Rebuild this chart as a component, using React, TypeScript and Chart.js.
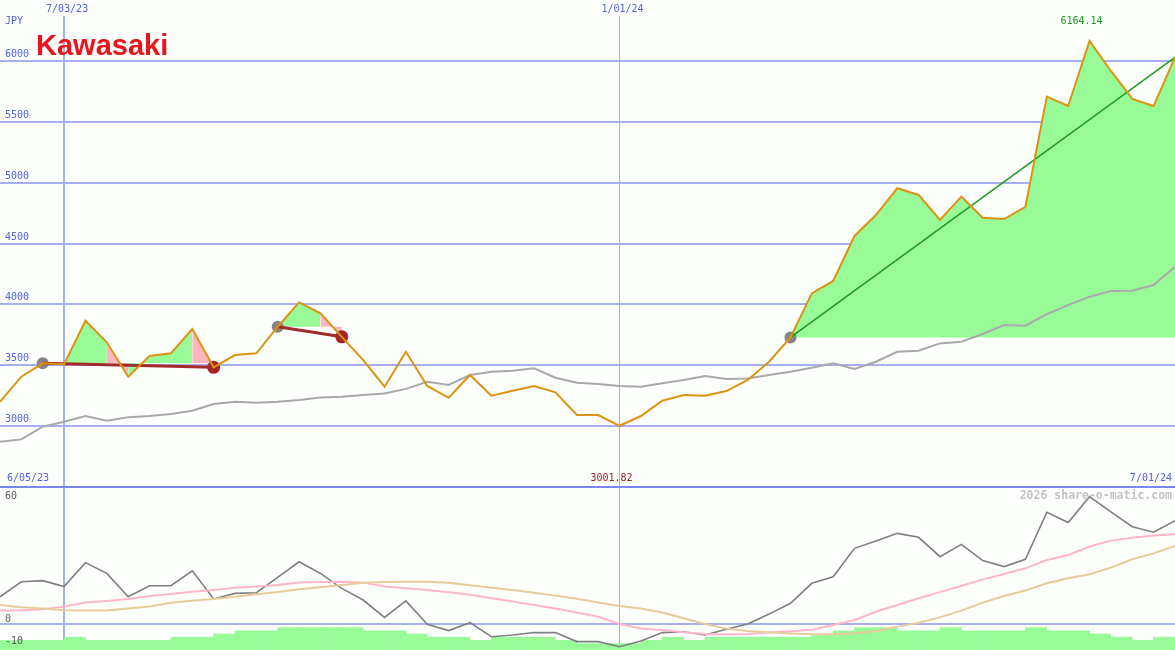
import React, { useEffect, useRef } from 'react';
import { Chart, registerables } from 'chart.js';

Chart.register(...registerables);

// ---------- data ----------
const weeks = [
  '6/12/23', '6/19/23', '6/26/23', '7/03/23', '7/10/23', '7/17/23', '7/24/23', '7/31/23',
  '8/07/23', '8/14/23', '8/21/23', '8/28/23', '9/04/23', '9/11/23', '9/18/23', '9/25/23',
  '10/02/23', '10/09/23', '10/16/23', '10/23/23', '10/30/23', '11/06/23', '11/13/23', '11/20/23',
  '11/27/23', '12/04/23', '12/11/23', '12/18/23', '12/25/23', '1/01/24', '1/08/24', '1/15/24',
  '1/22/24', '1/29/24', '2/05/24', '2/12/24', '2/19/24', '2/26/24', '3/04/24', '3/11/24',
  '3/18/24', '3/25/24', '4/01/24', '4/08/24', '4/15/24', '4/22/24', '4/29/24', '5/06/24',
  '5/13/24', '5/20/24', '5/27/24', '6/03/24', '6/10/24', '6/17/24', '6/24/24', '7/01/24',
];

const price = [
  3199, 3405, 3515, 3507, 3865, 3688, 3405, 3575, 3597, 3797,
  3482, 3583, 3597, 3816, 4016, 3926, 3733, 3542, 3323, 3610,
  3329, 3232, 3419, 3249, 3290, 3329, 3277, 3090, 3090, 3001.82,
  3082, 3208, 3255, 3249, 3287, 3378, 3528, 3728, 4090, 4192,
  4562, 4734, 4954, 4899, 4693, 4885, 4712, 4701, 4802, 5707,
  5630, 6164.14, 5918, 5688, 5630, 6030,
];

const priceMA = [
  2871, 2890, 2994, 3035, 3082, 3043, 3071, 3082, 3098, 3126,
  3180, 3199, 3191, 3199, 3213, 3235, 3240, 3254, 3268, 3305,
  3364, 3337, 3419, 3446, 3454, 3474, 3397, 3356, 3345, 3329,
  3323, 3351, 3378, 3411, 3386, 3390, 3419, 3446, 3479, 3515,
  3468, 3528, 3610, 3619, 3679, 3693, 3756, 3830, 3824, 3920,
  3994, 4063, 4109, 4112, 4159, 4309,
];

const oscMomentum = [
  12.4, 19.2, 19.7, 17.0, 27.9, 23.0, 12.4, 17.4, 17.4, 24.2,
  11.4, 13.9, 14.2, 21.2, 28.3, 23.0, 16.2, 10.9, 3.0, 10.5,
  -0.1, -3.0, 0.6, -5.8, -5.0, -3.9, -3.9, -8.0, -8.0, -10.3,
  -7.7, -3.9, -3.5, -5.0, -2.4, 0, 4.5, 9.4, 18.5, 21.5,
  34.4, 37.7, 41.2, 39.4, 30.6, 36.2, 28.8, 26.1, 29.4, 50.8,
  46.1, 57.9, 51.0, 44.2, 41.7, 47.0,
];

const oscSignal = [
  6.1, 6.2, 6.7, 7.9, 9.8, 10.5, 11.4, 12.7, 13.6, 14.7,
  15.5, 16.5, 17.0, 17.7, 18.9, 19.1, 19.2, 18.8, 17.0, 16.2,
  15.5, 14.4, 13.3, 11.7, 10.2, 8.6, 7.0, 5.2, 3.3, 0,
  -2.0, -2.7, -3.8, -4.5, -4.7, -4.5, -3.9, -3.3, -2.6, -0.5,
  1.8, 5.6, 8.6, 11.7, 14.5, 17.3, 20.3, 22.7, 25.3, 29.1,
  31.4, 35.2, 37.9, 39.2, 40.2, 40.8,
];

const oscSlow = [
  8.6, 7.6, 7.0, 6.2, 6.1, 6.1, 7.0, 8.0, 9.7, 10.6,
  11.4, 12.4, 13.5, 14.5, 15.8, 16.7, 17.7, 18.8, 19.1, 19.2,
  19.2, 18.8, 17.6, 16.5, 15.5, 14.2, 12.9, 11.5, 9.8, 8.2,
  7.0, 5.2, 2.6, 0, -2.1, -3.2, -3.8, -4.3, -4.7, -4.7,
  -4.2, -3.3, -1.2, 0.6, 3.0, 6.1, 9.7, 12.7, 15.2, 18.5,
  20.8, 22.6, 25.6, 29.4, 32.1, 35.5,
];

// one bar per week interval (between consecutive points)
const strengthBars = [
  3, 3, 3, 4, 3, 3, 3, 3, 4, 4,
  5, 6, 6, 7, 7, 7, 7, 6, 6, 5,
  4, 4, 3, 4, 4, 4, 3, 2, 2, 2,
  3, 4, 3, 4, 4, 4, 4, 4, 4.5, 6,
  7, 7, 6, 6, 7, 6, 6, 6, 7, 6,
  6, 5, 4, 3, 4,
];

const tradeEntries = [2, 13, 37];
const tradeExits = [10, 16, 55];
const tradeClosed = [true, true, false];
const tradeSegmentTrend = [
  ['up', 'up', 'up', 'down', 'up', 'up', 'up', 'down'],
  ['up', 'up', 'down'],
  [],
];

const priceTicks = [3000, 3500, 4000, 4500, 5000, 5500, 6000];
const panelDivider = 2500;
const oscTicks = [60, 0, -10];
const oscGridTicks = [0];
const xTickLabels = ['7/03/23', '1/01/24'];
const currencyLabel = 'JPY';
const titleLabel = 'Kawasaki';
const rangeStartLabel = '6/05/23';
const rangeEndLabel = '7/01/24';
const watermarkLabel = '2026 share-o-matic.com';

// ---------- styles ----------
const W = 1175;
const H = 650;
const BG = '#fcfffc';
const GRID = '#a6aff2';
const DIVIDER = '#7886f0';
const BLUE_TEXT = '#5262ec';
const GREEN_FILL = '#98fb98';
const PINK_FILL = '#ffb6c1';
const MONO = '"DejaVu Sans Mono", "Liberation Mono", monospace';

const pts = (arr: number[], off = 0) => arr.map((v, i) => ({ x: i + off, y: v }));

export default function App() {
  const ref = useRef<HTMLCanvasElement | null>(null);

  useEffect(() => {
    const canvas = ref.current;
    if (!canvas) return;

    const xTickIdx = xTickLabels.map((l) => weeks.indexOf(l));
    const maxIdx = price.indexOf(Math.max(...price));
    const minIdx = price.indexOf(Math.min(...price));

    const fillSets = tradeEntries.map((entry, k) => {
      const exit = tradeExits[k];
      const flags = tradeSegmentTrend[k];
      return {
        type: 'line',
        data: price.slice(entry, exit + 1).map((v, j) => ({ x: entry + j, y: v })),
        yAxisID: 'y',
        borderWidth: 0,
        borderColor: 'rgba(0,0,0,0)',
        pointRadius: 0,
        tension: 0,
        backgroundColor: GREEN_FILL,
        fill: { value: price[entry] },
        segment: {
          backgroundColor: (c: any) => (flags[c.p0DataIndex] === 'down' ? PINK_FILL : GREEN_FILL),
        },
        order: 8,
      };
    });

    const trendSets = tradeEntries.map((entry, k) => {
      const exit = tradeExits[k];
      return {
        type: 'line',
        data: [
          { x: entry, y: price[entry] },
          { x: exit, y: price[exit] },
        ],
        yAxisID: 'y',
        borderColor: tradeClosed[k] ? '#a52a2a' : '#1f9a1f',
        borderWidth: tradeClosed[k] ? 3 : 1.6,
        pointRadius: 0,
        order: 3,
      };
    });

    const textPlugin = {
      id: 'textPlugin',
      beforeDraw(chart: any) {
        const c = chart.ctx;
        c.save();
        c.fillStyle = BG;
        c.fillRect(0, 0, chart.width, chart.height);
        c.restore();
      },
      beforeDatasetsDraw(chart: any) {
        const c = chart.ctx;
        c.save();
        c.fillStyle = BG;
        c.fillRect(0, 0, chart.width, 16);
        c.restore();
      },
      afterDraw(chart: any) {
        const c = chart.ctx;
        const sx = chart.scales.x;
        const sy = chart.scales.y;
        const so = chart.scales.yo;
        c.save();
        c.textBaseline = 'middle';
        c.font = `10px ${MONO}`;

        // price tick labels
        c.fillStyle = BLUE_TEXT;
        c.textAlign = 'left';
        priceTicks.forEach((v) => {
          c.fillText(String(v), 5, sy.getPixelForValue(v) - 6.5);
        });
        c.fillText(currencyLabel, 5, 21);

        // date labels at top
        c.textAlign = 'center';
        xTickIdx.forEach((idx, k) => {
          c.fillText(xTickLabels[k], sx.getPixelForValue(idx) + 3, 9);
        });

        // bottom panel header
        c.textAlign = 'left';
        c.fillText(rangeStartLabel, 7, 478.5);
        c.textAlign = 'right';
        c.fillText(rangeEndLabel, 1172, 478.5);

        // max / min
        c.textAlign = 'center';
        c.fillStyle = '#1f9a1f';
        c.fillText(price[maxIdx].toFixed(2), sx.getPixelForValue(maxIdx) - 8, 21);
        c.fillStyle = '#a01c1c';
        c.fillText(price[minIdx].toFixed(2), sx.getPixelForValue(minIdx) - 8, 478.5);

        // oscillator labels
        c.textAlign = 'left';
        c.fillStyle = '#5a5a5a';
        oscTicks.forEach((v) => {
          c.fillText(String(v), 5, so.getPixelForValue(v) + (v > 30 ? 4 : -4.5));
        });

        // watermark
        c.textAlign = 'right';
        c.fillStyle = '#c4c4c4';
        c.font = `bold 11.5px ${MONO}`;
        c.fillText(watermarkLabel, 1172, 496);

        // title logo
        c.textAlign = 'left';
        c.textBaseline = 'alphabetic';
        c.fillStyle = '#e8141e';
        c.font = 'bold 29px "Liberation Sans", Arial, sans-serif';
        c.fillText(titleLabel, 36, 55);
        c.restore();
      },
    };

    const pxPerUnit = 365 / 3000;
    const yMax = 6000 + 61 / pxPerUnit;
    const yMin = 6000 - (H - 61) / pxPerUnit;
    const oscPx = 2.2;
    const oMin = -(H - 624) / oscPx;
    const oMax = 624 / oscPx;

    const chart = new Chart(canvas, {
      type: 'line',
      data: {
        datasets: [
          {
            type: 'bar',
            data: pts(strengthBars, 0.5),
            xAxisID: 'x',
            yAxisID: 'yb',
            backgroundColor: GREEN_FILL,
            borderWidth: 0,
            barPercentage: 1,
            categoryPercentage: 1,
            order: 9,
          },
          ...fillSets,
          {
            type: 'line',
            data: pts(priceMA),
            yAxisID: 'y',
            borderColor: '#a9a9a9',
            borderWidth: 2,
            pointRadius: 0,
            order: 6,
          },
          {
            type: 'line',
            data: pts(oscSlow),
            yAxisID: 'yo',
            borderColor: '#e6cb9c',
            borderWidth: 2,
            pointRadius: 0,
            order: 5,
          },
          {
            type: 'line',
            data: pts(oscSignal),
            yAxisID: 'yo',
            borderColor: '#ffb6c8',
            borderWidth: 2,
            pointRadius: 0,
            order: 5,
          },
          {
            type: 'line',
            data: pts(oscMomentum),
            yAxisID: 'yo',
            borderColor: '#7f7f7f',
            borderWidth: 1.6,
            pointRadius: 0,
            order: 5,
          },
          {
            type: 'line',
            data: tradeEntries.map((i) => ({ x: i, y: price[i] })),
            yAxisID: 'y',
            showLine: false,
            pointRadius: 6,
            pointBackgroundColor: '#858585',
            pointBorderWidth: 0,
            order: 4,
          },
          {
            type: 'line',
            data: tradeExits
              .filter((_, k) => tradeClosed[k])
              .map((i) => ({ x: i, y: price[i] })),
            yAxisID: 'y',
            showLine: false,
            pointRadius: 6.5,
            pointBackgroundColor: '#a52424',
            pointBorderWidth: 0,
            order: 4,
          },
          ...trendSets,
          {
            type: 'line',
            data: pts(price),
            yAxisID: 'y',
            borderColor: '#dc9314',
            borderWidth: 2,
            pointRadius: 0,
            order: 1,
          },
        ] as any,
      },
      options: {
        animation: false,
        responsive: false,
        devicePixelRatio: 1,
        parsing: true,
        events: [],
        layout: { padding: 0, autoPadding: false } as any,
        plugins: {
          legend: { display: false },
          tooltip: { enabled: false },
        },
        elements: { line: { tension: 0 } },
        scales: {
          x: {
            type: 'linear',
            min: 0,
            max: weeks.length - 1,
            offset: false,
            position: 'bottom',
            border: { display: false },
            ticks: { display: false },
            grid: {
              offset: false,
              drawTicks: false,
              color: GRID,
              lineWidth: (c: any) => (c.tick && c.tick.value === xTickIdx[0] ? 2 : 1),
            },
            afterBuildTicks: (a: any) => {
              a.ticks = xTickIdx.map((v) => ({ value: v }));
            },
          },
          y: {
            type: 'linear',
            position: 'left',
            min: yMin,
            max: yMax,
            border: { display: false },
            ticks: { display: false },
            grid: {
              drawTicks: false,
              color: (c: any) => (c.tick && c.tick.value === panelDivider ? DIVIDER : GRID),
              lineWidth: 2,
            },
            afterBuildTicks: (a: any) => {
              a.ticks = [panelDivider, ...priceTicks].map((v) => ({ value: v }));
            },
          },
          yo: {
            type: 'linear',
            position: 'left',
            min: oMin,
            max: oMax,
            border: { display: false },
            ticks: { display: false },
            grid: { drawTicks: false, color: GRID, lineWidth: 2 },
            afterBuildTicks: (a: any) => {
              a.ticks = oscGridTicks.map((v) => ({ value: v }));
            },
          },
          yb: {
            type: 'linear',
            display: false,
            min: 0,
            max: H / 3.2,
          },
        },
      } as any,
      plugins: [textPlugin],
    });

    return () => chart.destroy();
  }, []);

  return (
    <div style={{ position: 'absolute', left: 0, top: 0, width: W, height: H, background: BG }}>
      <canvas ref={ref} width={W} height={H} style={{ display: 'block', width: W, height: H }} />
    </div>
  );
}
